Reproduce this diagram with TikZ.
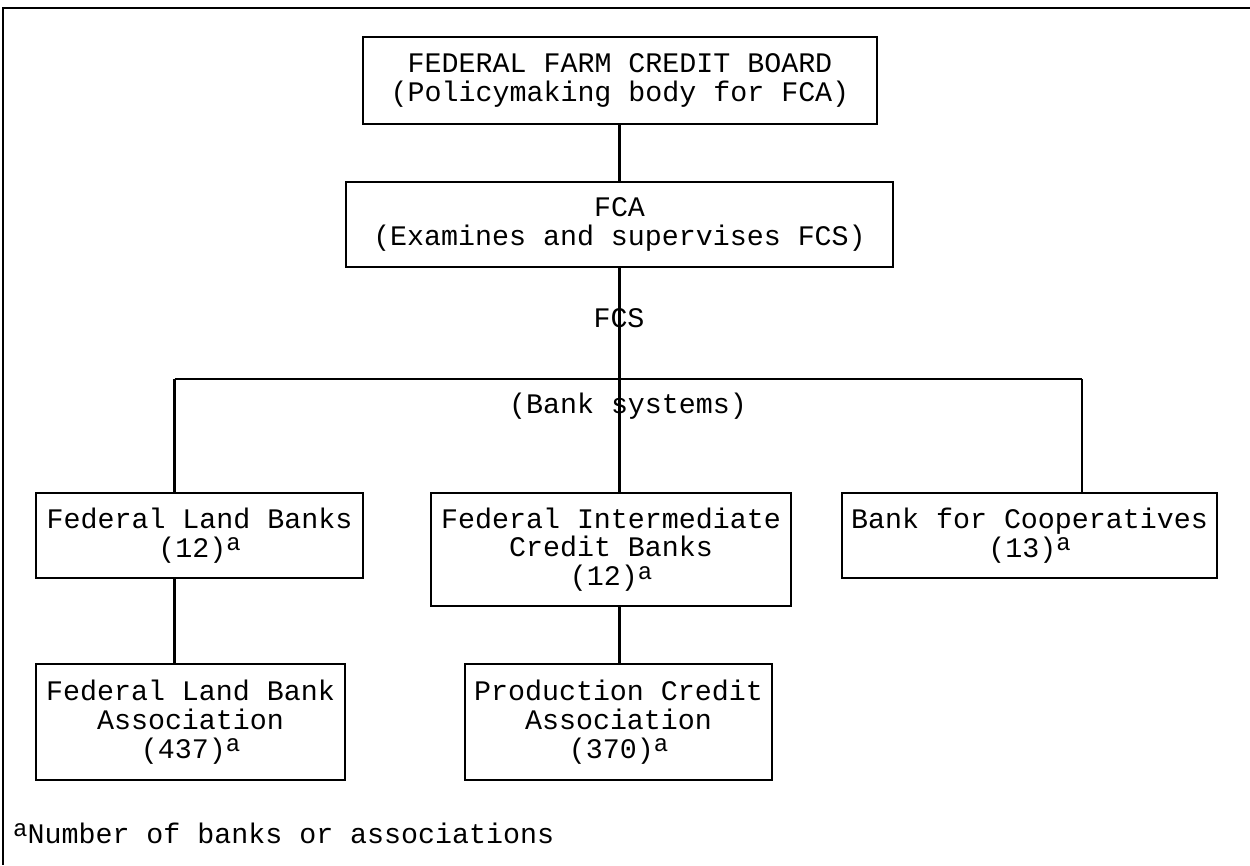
\documentclass[tikz,border=0pt]{standalone}
\usepackage{fontspec}
\setmonofont{Liberation Mono}
\newcommand\supa{\raisebox{0.22em}{\fontsize{24}{24}\selectfont a}}
\tikzset{
  orgbox/.style={draw, line width=2.6pt, align=center, inner sep=0pt,
    font=\ttfamily\fontsize{28.3}{28.8}\selectfont},
  conn/.style={line width=2.2pt},
  lbl/.style={inner sep=0pt, font=\ttfamily\fontsize{28.3}{28.8}\selectfont},
  frame/.style={line width=2.4pt}
}
\begin{document}
\begin{tikzpicture}[x=1pt,y=-1pt]
\useasboundingbox (0,0) rectangle (1250,865);
% outer frame (top and left)
\coordinate (ftl) at (3,8);
\coordinate (ftr) at (1250,8);
\coordinate (fbl) at (3,865);
\draw[frame] (ftr) -- (ftl) -- (fbl);

% boxes
\node[orgbox, minimum width=514pt, minimum height=87pt] (ffcb) at (620,80.5)
  {FEDERAL FARM CREDIT BOARD\\(Policymaking body for FCA)};
\node[orgbox, minimum width=547pt, minimum height=85pt] (fca) at (619.5,224.5)
  {FCA\\(Examines and supervises FCS)};
\node[orgbox, minimum width=327pt, minimum height=85pt] (flb) at (199.5,535.5)
  {Federal Land Banks\\(12)\supa};
\node[orgbox, minimum width=360pt, minimum height=113pt] (ficb) at (611,549.5)
  {Federal Intermediate\\Credit Banks\\(12)\supa};
\node[orgbox, minimum width=375pt, minimum height=85pt] (bfc) at (1029.5,535.5)
  {Bank for Cooperatives\\(13)\supa};
\node[orgbox, minimum width=309pt, minimum height=116pt] (flba) at (190.5,722)
  {Federal Land Bank\\Association\\(437)\supa};
\node[orgbox, minimum width=307pt, minimum height=116pt] (pca) at (618.5,722)
  {Production Credit\\Association\\(370)\supa};

% junction coordinates
\coordinate (jm) at (619.5,379);
\coordinate (jl) at (174.5,379);
\coordinate (jr) at (1082,379);

% connectors
\draw[conn] (jm |- ffcb.south) -- (jm |- fca.north);
\draw[conn] (jm |- fca.south) -- (jm);
\draw[conn] (jl) -- (jr);
\draw[conn] (jl) -- (jl |- flb.north);
\draw[conn] (jm) -- (jm |- ficb.north);
\draw[conn] (jr) -- (jr |- bfc.north);
\draw[conn] (jl |- flb.south) -- (jl |- flba.north);
\draw[conn] (jm |- ficb.south) -- (jm |- pca.north);

% labels on the lines
\node[lbl] (fcs) at (619,318) {FCS};
\node[lbl] (banksys) at (628,406) {(Bank systems)};

% footnote
\node[lbl, anchor=west] (foot) at (13,833) {\supa Number of banks or associations};
\end{tikzpicture}
\end{document}
